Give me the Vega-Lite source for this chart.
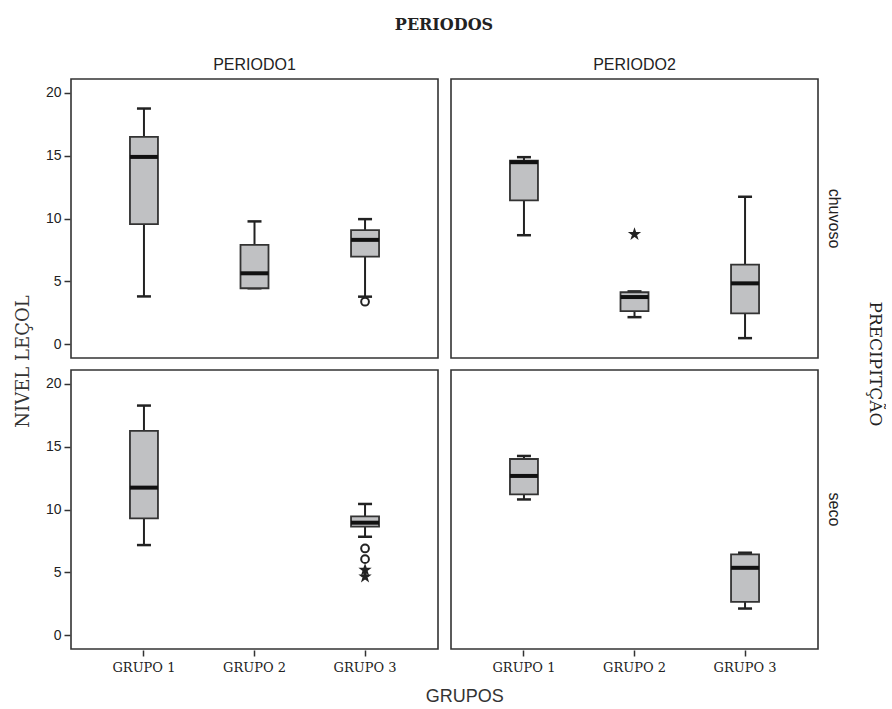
{
  "$schema": "https://vega.github.io/schema/vega-lite/v6.json",
  "background": "white",
  "padding": {"left": 15, "top": 17, "right": 2, "bottom": 3},
  "title": {"text": "NIVEL LEÇOL", "orient": "left", "anchor": "middle", "font": "DejaVu Serif", "fontSize": 18, "fontWeight": "normal", "color": "#333", "offset": 12},
  "vconcat": [
    {
      "title": {"text": "GRUPOS", "orient": "bottom", "anchor": "middle", "font": "Liberation Sans", "fontSize": 18, "fontWeight": "normal", "color": "#333", "offset": 14},
      "data": {"values": [
        {"kind":"box","periodo":"PERIODO1","precip":"chuvoso","grupo":"GRUPO 1","lo":3.8,"q1":9.55,"med":14.9,"q3":16.5,"hi":18.75},
        {"kind":"box","periodo":"PERIODO1","precip":"chuvoso","grupo":"GRUPO 2","lo":4.45,"q1":4.45,"med":5.64,"q3":7.9,"hi":9.77},
        {"kind":"box","periodo":"PERIODO1","precip":"chuvoso","grupo":"GRUPO 3","lo":3.78,"q1":6.97,"med":8.3,"q3":9.07,"hi":9.95},
        {"kind":"box","periodo":"PERIODO2","precip":"chuvoso","grupo":"GRUPO 1","lo":8.67,"q1":11.44,"med":14.48,"q3":14.6,"hi":14.88},
        {"kind":"box","periodo":"PERIODO2","precip":"chuvoso","grupo":"GRUPO 2","lo":2.15,"q1":2.63,"med":3.75,"q3":4.13,"hi":4.2},
        {"kind":"box","periodo":"PERIODO2","precip":"chuvoso","grupo":"GRUPO 3","lo":0.48,"q1":2.45,"med":4.84,"q3":6.33,"hi":11.73},
        {"kind":"box","periodo":"PERIODO1","precip":"seco","grupo":"GRUPO 1","lo":7.17,"q1":9.3,"med":11.74,"q3":16.25,"hi":18.27},
        {"kind":"box","periodo":"PERIODO1","precip":"seco","grupo":"GRUPO 3","lo":7.83,"q1":8.63,"med":8.95,"q3":9.45,"hi":10.44},
        {"kind":"box","periodo":"PERIODO2","precip":"seco","grupo":"GRUPO 1","lo":10.8,"q1":11.2,"med":12.67,"q3":14.02,"hi":14.26},
        {"kind":"box","periodo":"PERIODO2","precip":"seco","grupo":"GRUPO 3","lo":2.12,"q1":2.65,"med":5.36,"q3":6.43,"hi":6.56},
        {"kind":"out","periodo":"PERIODO1","precip":"chuvoso","grupo":"GRUPO 3","val":3.38,"sym":"circle"},
        {"kind":"out","periodo":"PERIODO2","precip":"chuvoso","grupo":"GRUPO 2","val":8.75,"sym":"star"},
        {"kind":"out","periodo":"PERIODO1","precip":"seco","grupo":"GRUPO 3","val":6.9,"sym":"circle"},
        {"kind":"out","periodo":"PERIODO1","precip":"seco","grupo":"GRUPO 3","val":6.05,"sym":"circle"},
        {"kind":"out","periodo":"PERIODO1","precip":"seco","grupo":"GRUPO 3","val":5.18,"sym":"star"},
        {"kind":"out","periodo":"PERIODO1","precip":"seco","grupo":"GRUPO 3","val":4.65,"sym":"star"}
      ]},
      "facet": {
        "column": {"field": "periodo", "type": "nominal", "title": "PERIODOS",
          "header": {"titleFont": "DejaVu Serif", "titleFontWeight": "bold", "titleFontSize": 16, "titleColor": "#222", "titlePadding": 14,
                     "labelFont": "Liberation Sans", "labelFontSize": 16, "labelColor": "#222", "labelPadding": 5}},
        "row": {"field": "precip", "type": "nominal", "sort": ["chuvoso", "seco"], "title": "PRECIPITÇÃO",
          "header": {"labelOrient": "right", "labelAngle": 90, "labelAlign": "center", "labelBaseline": "middle", "labelFont": "Liberation Sans", "labelFontSize": 16, "labelColor": "#222", "labelPadding": -1,
                     "titleOrient": "right", "titleAngle": 90, "titleFont": "DejaVu Serif", "titleFontSize": 17, "titleFontWeight": "normal", "titleColor": "#222", "titlePadding": 14}}
      },
      "spacing": {"column": 11, "row": 10},
      "resolve": {"scale": {"x": "shared", "y": "shared"}},
      "spec": {
        "width": 367,
        "height": 279,
        "encoding": {
          "x": {"field": "grupo", "type": "nominal", "title": null,
            "scale": {"domain": ["GRUPO 1", "GRUPO 2", "GRUPO 3"], "paddingInner": 0, "paddingOuter": 0.16},
            "axis": {"labelAngle": 0, "labelFont": "DejaVu Serif", "labelFontSize": 13, "labelColor": "#222", "tickColor": "#333", "tickSize": 6, "tickWidth": 1.5, "domain": false, "labelPadding": 5}}
        },
        "layer": [
          {"transform": [{"filter": "datum.kind === 'box'"}],
           "mark": {"type": "rule", "color": "#222", "strokeWidth": 2},
           "encoding": {"y": {"field": "lo", "type": "quantitative", "title": null,
              "scale": {"domain": [-1.1, 21.1], "nice": false, "zero": false},
              "axis": {"values": [0, 5, 10, 15, 20], "grid": false, "domain": false, "tickColor": "#333", "tickWidth": 1.5, "tickSize": 6, "labelFont": "Liberation Sans", "labelFontSize": 14, "labelColor": "#222", "labelPadding": 3}},
              "y2": {"field": "hi"}}},
          {"transform": [{"filter": "datum.kind === 'box'"}],
           "mark": {"type": "tick", "color": "#222", "size": 14, "thickness": 2.5, "opacity": 1},
           "encoding": {"y": {"field": "lo", "type": "quantitative"}}},
          {"transform": [{"filter": "datum.kind === 'box'"}],
           "mark": {"type": "tick", "color": "#222", "size": 14, "thickness": 2.5, "opacity": 1},
           "encoding": {"y": {"field": "hi", "type": "quantitative"}}},
          {"transform": [{"filter": "datum.kind === 'box'"}],
           "mark": {"type": "bar", "width": 28, "fill": "#c0c1c3", "stroke": "#333", "strokeWidth": 1.8, "opacity": 1},
           "encoding": {"y": {"field": "q1", "type": "quantitative"}, "y2": {"field": "q3"}}},
          {"transform": [{"filter": "datum.kind === 'box'"}],
           "mark": {"type": "tick", "color": "#111", "size": 28, "thickness": 4, "opacity": 1},
           "encoding": {"y": {"field": "med", "type": "quantitative"}}},
          {"transform": [{"filter": "datum.kind === 'out'"}],
           "mark": {"type": "point", "strokeWidth": 2, "opacity": 1},
           "encoding": {
             "y": {"field": "val", "type": "quantitative"},
             "shape": {"field": "sym", "type": "nominal", "legend": null,
               "scale": {"domain": ["circle", "star"], "range": ["circle", "M0,-1L0.24,-0.31L0.95,-0.31L0.38,0.12L0.59,0.81L0,0.38L-0.59,0.81L-0.38,0.12L-0.95,-0.31L-0.24,-0.31Z"]}},
             "size": {"value": 60},
             "fill": {"condition": {"test": "datum.sym === 'star'", "value": "#222"}, "value": "transparent"},
             "stroke": {"value": "#222"}
           }}
        ]
      }
    }
  ],
  "config": {
    "view": {"stroke": "#333", "strokeWidth": 1.6},
    "axis": {"grid": false}
  }
}
